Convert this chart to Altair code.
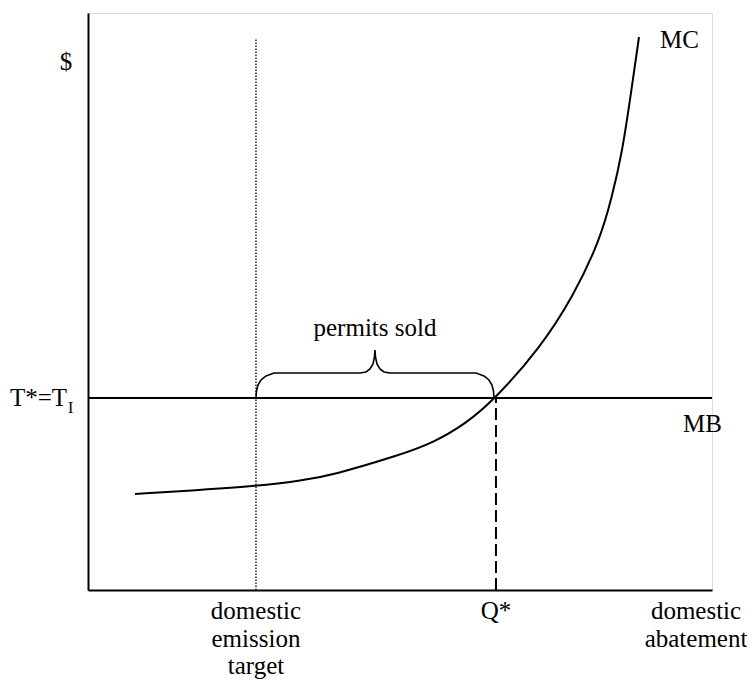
import altair as alt
import pandas as pd

# Coordinates: origin at axes corner, both axes run 0..100
mc_x = [7.53, 17.95, 27.08, 33.97, 39.26, 50.0, 55.29, 60.74, 65.38, 72.44, 77.72,
        82.05, 83.97, 85.58, 86.86, 88.30]
mc_y = [16.64, 17.33, 18.02, 18.89, 19.93, 23.40, 25.48, 28.94, 33.28, 41.94, 50.78,
        60.66, 68.11, 75.74, 84.92, 95.84]

mb_level = 33.28          # T* = T_I
q_star = 65.38            # Q*
target_x = 26.92          # domestic emission target
target_top = 95.67

brace_x = [26.92, 27.00, 27.24, 27.72, 28.53, 29.81, 43.59, 44.55, 45.19, 45.67, 45.91,
           45.99, 46.07, 46.31, 46.79, 47.44, 48.40, 62.18, 63.46, 64.26, 64.74, 64.98, 65.06]
brace_y = [33.28, 34.49, 35.53, 36.40, 37.09, 37.61, 37.61, 37.78, 38.30, 39.17, 40.38,
           41.59, 40.38, 39.17, 38.30, 37.78, 37.61, 37.61, 37.09, 36.40, 35.53, 34.49, 33.28]

label_text = ["$", "MC", "MB", "T*=T", "permits sold", "domestic", "emission", "target",
              "Q*", "domestic", "abatement"]
label_x = [-3.53, 91.67, 95.35, -12.5, 45.99, 26.92, 26.92, 26.92, 65.38, 97.44, 97.44]
label_y = [90.12, 93.93, 27.38, 31.89, 44.02, -5.03, -9.88, -14.56, -5.03, -5.03, -9.88]
label_align = ["center", "left", "left", "left", "center", "center", "center", "center",
               "center", "center", "center"]

sub_text = ["I"]
sub_x = [-3.21]
sub_y = [30.68]

FONT = "Liberation Serif"

xs = alt.Scale(domain=[0, 100], nice=False, zero=False)
ys = alt.Scale(domain=[0, 100], nice=False, zero=False)
ax = alt.Axis(domain=True, domainColor="black", domainWidth=2, ticks=False,
              labels=False, grid=False, title=None)

mc_df = pd.DataFrame({"x": mc_x, "y": mc_y})
mc = alt.Chart(mc_df).mark_line(color="black", strokeWidth=2, interpolate="basis").encode(
    x=alt.X("x:Q", scale=xs, axis=ax),
    y=alt.Y("y:Q", scale=ys, axis=ax),
)

mb = alt.Chart(pd.DataFrame({"x": [0], "x2": [100], "y": [mb_level]})).mark_rule(
    color="black", strokeWidth=2).encode(x="x:Q", x2="x2:Q", y="y:Q")

dotted = alt.Chart(pd.DataFrame({"x": [target_x], "y": [0], "y2": [target_top]})).mark_rule(
    color="black", strokeWidth=1.3, strokeDash=[1.5, 1.5]).encode(x="x:Q", y="y:Q", y2="y2:Q")

dashed = alt.Chart(pd.DataFrame({"x": [q_star], "y": [0], "y2": [mb_level]})).mark_rule(
    color="black", strokeWidth=2, strokeDash=[12, 5]).encode(x="x:Q", y="y:Q", y2="y2:Q")

brace_df = pd.DataFrame({"x": brace_x, "y": brace_y, "o": list(range(len(brace_x)))})
brace = alt.Chart(brace_df).mark_line(color="black", strokeWidth=1.6).encode(
    x="x:Q", y="y:Q", order="o:Q")

lab_df = pd.DataFrame({"x": label_x, "y": label_y, "t": label_text, "a": label_align})
layers = []
for al in ["left", "center"]:
    layers.append(
        alt.Chart(lab_df[lab_df["a"] == al]).mark_text(
            font=FONT, fontSize=25, color="black", align=al, baseline="alphabetic"
        ).encode(x="x:Q", y="y:Q", text="t:N")
    )

sub = alt.Chart(pd.DataFrame({"x": sub_x, "y": sub_y, "t": sub_text})).mark_text(
    font=FONT, fontSize=16, color="black", align="left", baseline="alphabetic"
).encode(x="x:Q", y="y:Q", text="t:N")

chart = alt.layer(mc, mb, dotted, dashed, brace, *layers, sub).properties(
    width=624, height=577,
    padding={"left": 80, "top": 5, "right": 35, "bottom": 90},
    autosize=alt.AutoSizeParams(type="none"),
).configure_view(stroke=None).configure(background="white")

chart.save("out.html", embed_options={"renderer": "svg", "actions": False})
